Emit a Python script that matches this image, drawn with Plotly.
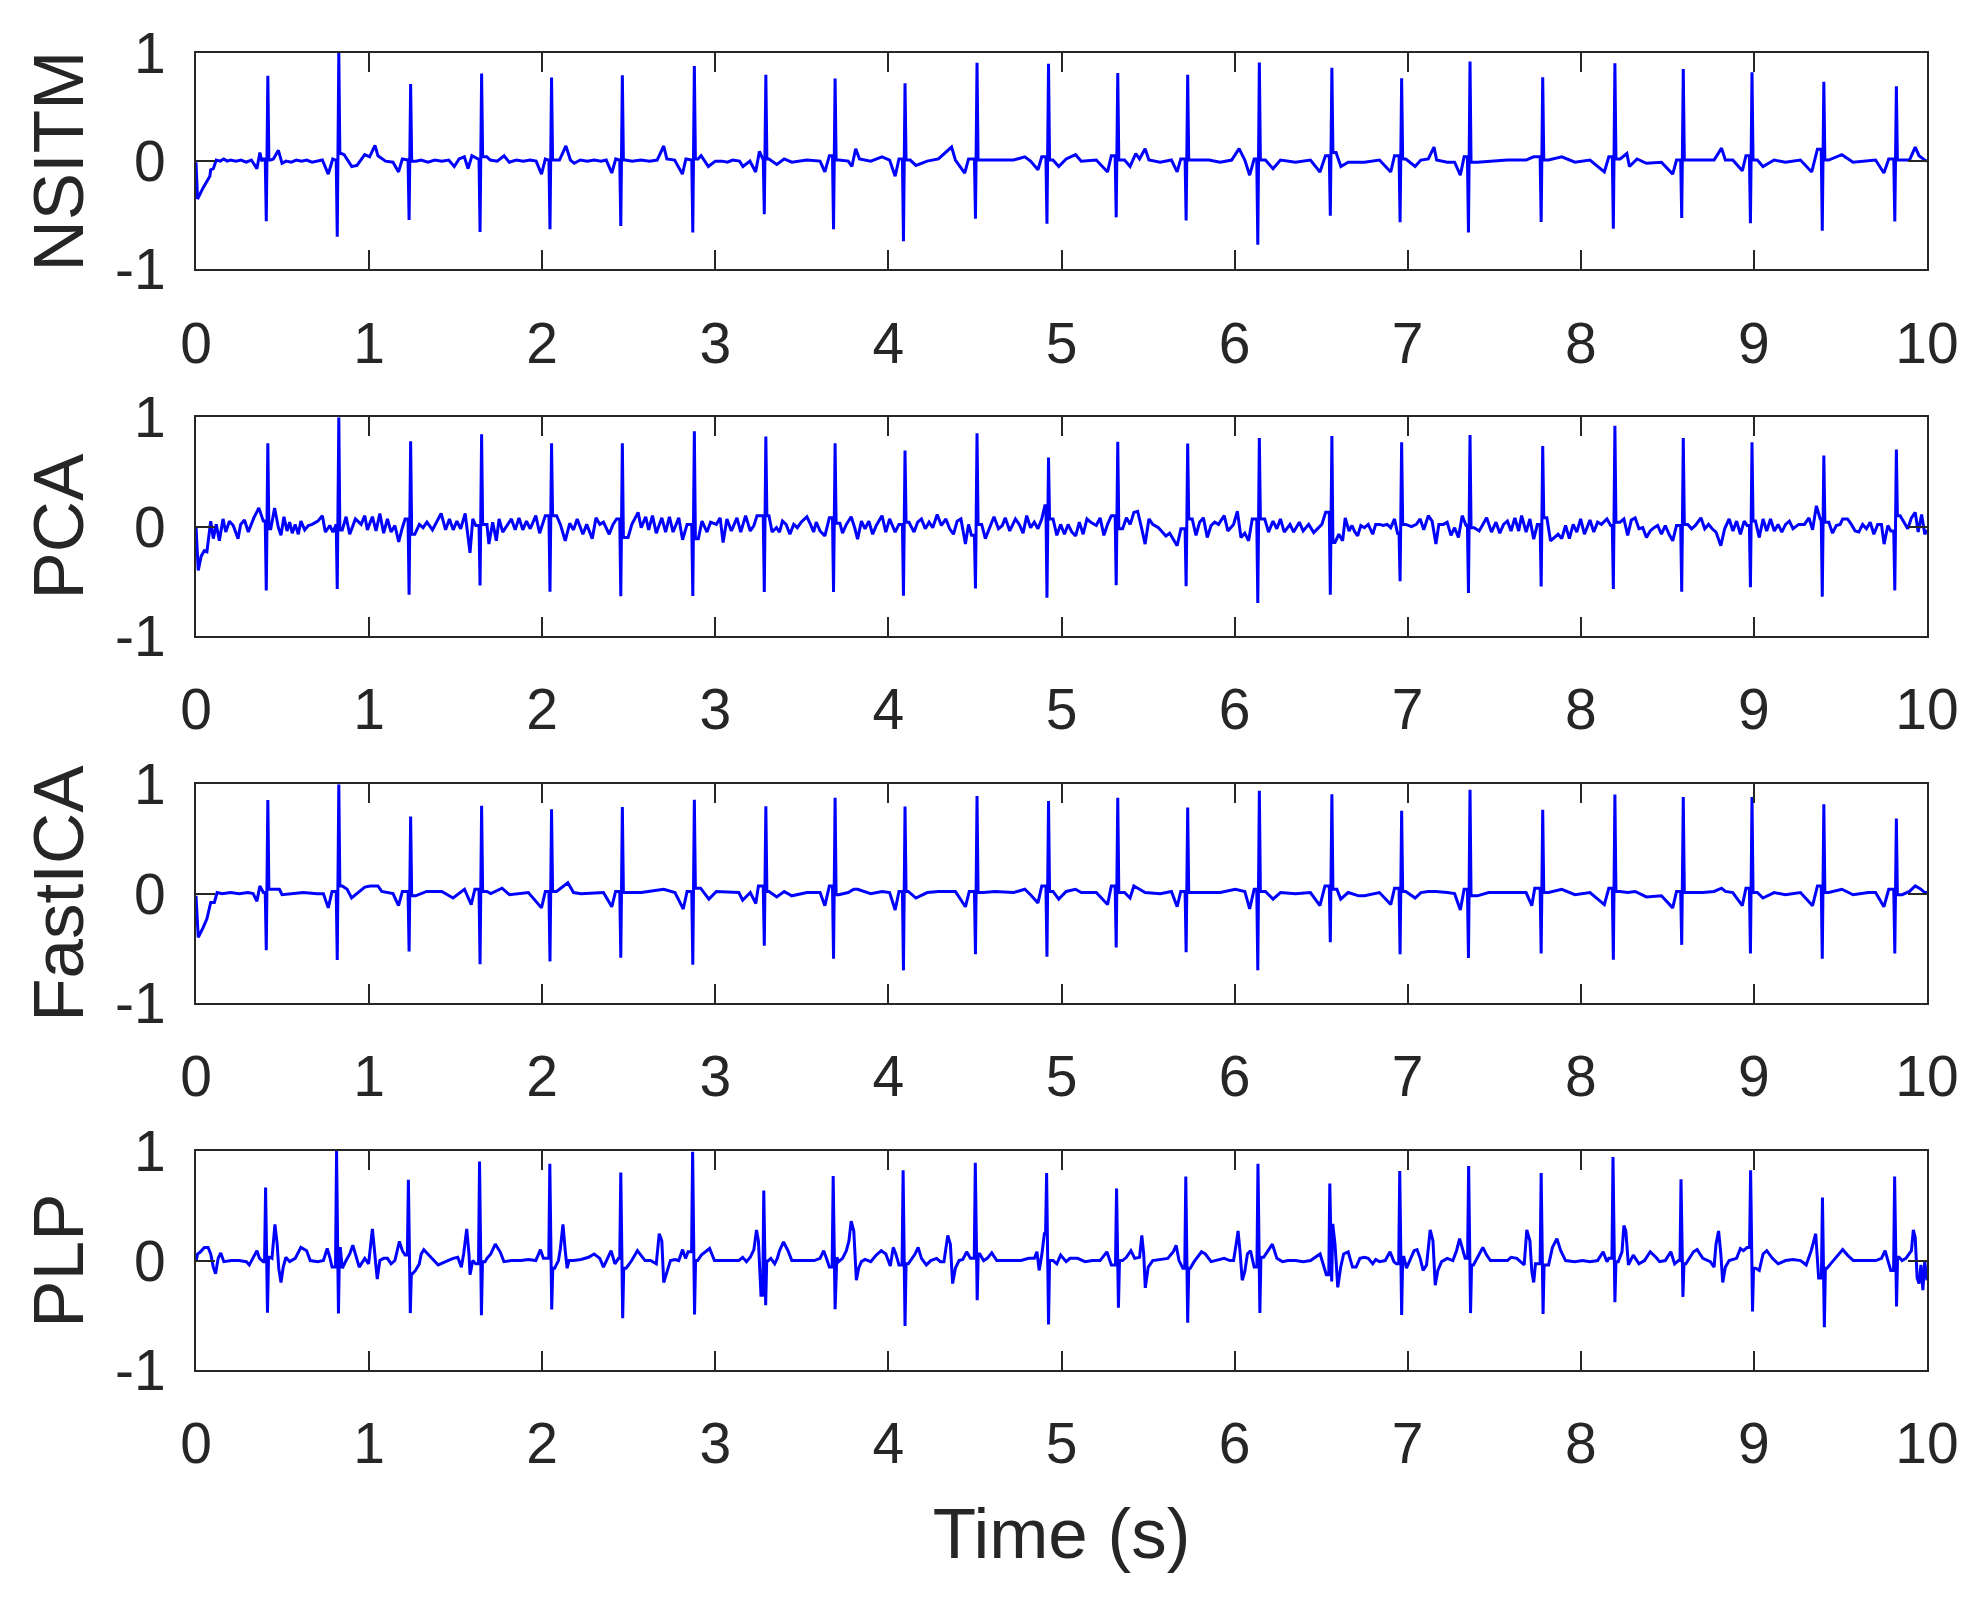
import bisect
import plotly.graph_objects as go

# R-peak times (s) shared by NSITM, PCA and FastICA
beat_t = [0.415, 0.825, 1.240, 1.650, 2.054, 2.463, 2.879, 3.292, 3.692, 4.096, 4.512, 4.925,
          5.325, 5.729, 6.143, 6.562, 6.965, 7.360, 7.780, 8.197, 8.592, 8.989, 9.404, 9.823]
# R-peak times (s) of the PLP trace
plp_beat_t = [0.402, 0.812, 1.227, 1.638, 2.044, 2.454, 2.869, 3.280, 3.681, 4.085, 4.502, 4.914,
              5.318, 5.718, 6.135, 6.550, 6.954, 7.352, 7.771, 8.186, 8.579, 8.981, 9.396, 9.813]

nsitm_r = [0.79, 1.0, 0.713, 0.81, 0.773, 0.795, 0.879, 0.798, 0.764, 0.719, 0.909, 0.90,
           0.816, 0.798, 0.912, 0.864, 0.767, 0.921, 0.776, 0.906, 0.852, 0.822, 0.734, 0.692]
nsitm_s = [-0.556, -0.70, -0.544, -0.656, -0.631, -0.60, -0.66, -0.49, -0.631, -0.74, -0.532, -0.58,
           -0.52, -0.55, -0.773, -0.505, -0.565, -0.66, -0.562, -0.625, -0.526, -0.574, -0.644, -0.559]

pca_r = [0.761, 1.0, 0.779, 0.843, 0.761, 0.761, 0.870, 0.822, 0.761, 0.695, 0.852, 0.631,
         0.776, 0.758, 0.81, 0.828, 0.770, 0.837, 0.737, 0.921, 0.81, 0.77, 0.65, 0.704]
pca_s = [-0.583, -0.571, -0.622, -0.538, -0.595, -0.637, -0.634, -0.598, -0.598, -0.631, -0.565, -0.65,
         -0.535, -0.544, -0.698, -0.622, -0.50, -0.607, -0.547, -0.571, -0.595, -0.553, -0.64, -0.583]

ica_r = [0.855, 1.0, 0.704, 0.804, 0.770, 0.792, 0.858, 0.798, 0.876, 0.795, 0.891, 0.846,
         0.876, 0.786, 0.94, 0.909, 0.758, 0.949, 0.767, 0.906, 0.882, 0.882, 0.816, 0.686]
ica_s = [-0.517, -0.607, -0.529, -0.644, -0.619, -0.586, -0.65, -0.477, -0.595, -0.701, -0.553, -0.577,
         -0.492, -0.535, -0.701, -0.444, -0.553, -0.589, -0.547, -0.604, -0.468, -0.547, -0.595, -0.547]

plp_r = [0.668, 1.0, 0.737, 0.906, 0.885, 0.804, 0.994, 0.64, 0.773, 0.825, 0.894, 0.80,
         0.659, 0.767, 0.885, 0.704, 0.819, 0.864, 0.80, 0.946, 0.743, 0.825, 0.577, 0.767]
plp_s = [-0.477, -0.483, -0.480, -0.50, -0.447, -0.526, -0.492, -0.408, -0.444, -0.598, -0.363, -0.583,
         -0.432, -0.568, -0.48, -0.19, -0.498, -0.48, -0.489, -0.381, -0.332, -0.465, -0.61, -0.42]

# baseline between the QRS spikes, (time, value)
nsitm_base = [
    (0.000, -0.01), (0.009, -0.35), (0.040, -0.25), (0.063, -0.19), (0.080, -0.14), (0.085, -0.08), (0.100, -0.07),
    (0.117, 0.01), (0.140, 0.00), (0.160, 0.02), (0.180, 0.00), (0.200, 0.01), (0.230, 0.00), (0.260, 0.01),
    (0.290, -0.01), (0.320, 0.01), (0.352, -0.07), (0.369, 0.08), (0.380, 0.00), (0.389, 0.02),
    (0.430, 0.01), (0.447, 0.02), (0.476, 0.10), (0.497, -0.02), (0.520, 0.00), (0.550, -0.01), (0.580, 0.01),
    (0.610, 0.00), (0.640, 0.01), (0.670, -0.01), (0.700, 0.00), (0.730, 0.01), (0.764, -0.12), (0.790, 0.02),
    (0.805, 0.01), (0.840, 0.07), (0.856, 0.06), (0.900, -0.05), (0.930, -0.04), (0.975, 0.06), (1.003, 0.04),
    (1.034, 0.145), (1.051, 0.05), (1.095, 0.00), (1.138, -0.01), (1.170, -0.10), (1.192, 0.02), (1.220, 0.01),
    (1.270, 0.00), (1.300, 0.01), (1.340, -0.01), (1.380, 0.01), (1.420, 0.00), (1.460, 0.01), (1.492, -0.05),
    (1.520, 0.02), (1.550, 0.04), (1.572, -0.07), (1.594, 0.05), (1.630, 0.02),
    (1.680, 0.04), (1.700, 0.01), (1.740, 0.00), (1.780, 0.05), (1.810, -0.01), (1.850, 0.01), (1.890, 0.00),
    (1.930, 0.01), (1.965, 0.00), (1.996, -0.12), (2.018, 0.02), (2.035, 0.01),
    (2.070, 0.01), (2.100, 0.01), (2.137, 0.14), (2.163, 0.01), (2.185, -0.02), (2.220, 0.01), (2.260, 0.00),
    (2.300, 0.01), (2.340, 0.00), (2.370, 0.01), (2.402, -0.11), (2.425, 0.02), (2.445, 0.01),
    (2.480, 0.01), (2.520, 0.00), (2.570, 0.01), (2.620, 0.00), (2.664, 0.01), (2.702, 0.14), (2.720, 0.02),
    (2.765, 0.01), (2.810, -0.12), (2.830, 0.02), (2.860, 0.01),
    (2.900, 0.02), (2.918, 0.05), (2.960, -0.05), (3.000, 0.00), (3.040, 0.00), (3.070, -0.01), (3.100, 0.01),
    (3.140, 0.00), (3.160, -0.05), (3.200, 0.00), (3.233, -0.10), (3.255, 0.09), (3.272, 0.03),
    (3.310, 0.02), (3.355, -0.03), (3.398, 0.02), (3.442, -0.01), (3.529, 0.01), (3.605, 0.00), (3.633, -0.10),
    (3.659, 0.05), (3.713, 0.01), (3.768, 0.00), (3.789, -0.05), (3.811, 0.115), (3.833, 0.02), (3.898, 0.00),
    (3.963, 0.04), (4.007, 0.01), (4.039, -0.14), (4.061, 0.02),
    (4.126, 0.01), (4.159, -0.04), (4.224, 0.00), (4.289, 0.02), (4.365, 0.13), (4.387, 0.01), (4.441, -0.11),
    (4.463, 0.02), (4.549, 0.01), (4.615, 0.01), (4.723, 0.01), (4.788, 0.04), (4.821, 0.00), (4.864, -0.08),
    (4.886, 0.04), (4.951, 0.01), (4.984, -0.05), (5.027, 0.02), (5.081, 0.06), (5.114, 0.00), (5.201, 0.01),
    (5.266, -0.10), (5.288, 0.05), (5.364, 0.01), (5.396, -0.05), (5.429, 0.07), (5.451, 0.02), (5.483, 0.115),
    (5.505, 0.01), (5.570, -0.01), (5.635, 0.01), (5.668, -0.10), (5.689, 0.02),
    (5.765, 0.01), (5.852, 0.01), (5.917, -0.01), (5.983, 0.01), (6.026, 0.115), (6.059, 0.01), (6.087, -0.13),
    (6.113, 0.02), (6.178, 0.01), (6.222, -0.07), (6.265, 0.01), (6.352, -0.01), (6.438, 0.01), (6.493, -0.10),
    (6.525, 0.05), (6.586, 0.08), (6.614, -0.05), (6.656, -0.01), (6.750, -0.01), (6.837, 0.01), (6.902, -0.10),
    (6.924, 0.05), (6.989, 0.02), (7.043, -0.05), (7.076, 0.01), (7.119, 0.02), (7.152, 0.13), (7.167, 0.01),
    (7.228, -0.01), (7.271, -0.01), (7.304, -0.13), (7.326, 0.04),
    (7.402, -0.01), (7.467, 0.00), (7.575, 0.01), (7.684, 0.01), (7.727, 0.04),
    (7.814, 0.01), (7.890, 0.04), (7.966, -0.01), (8.053, 0.01), (8.136, -0.10), (8.162, 0.04),
    (8.227, 0.02), (8.266, 0.07), (8.281, -0.05), (8.325, 0.02), (8.379, -0.02), (8.466, -0.01), (8.531, -0.12),
    (8.553, 0.01), (8.640, 0.01), (8.705, 0.01), (8.770, 0.01), (8.813, 0.12), (8.835, 0.01), (8.878, 0.01),
    (8.933, -0.09), (8.954, 0.05), (9.020, 0.01), (9.052, -0.05), (9.117, 0.01), (9.182, -0.01), (9.269, 0.01),
    (9.334, -0.10), (9.367, 0.11), (9.432, 0.01), (9.508, 0.06), (9.573, -0.01), (9.660, 0.00), (9.703, 0.01),
    (9.751, -0.11), (9.779, 0.02), (9.856, 0.01), (9.899, 0.01), (9.932, 0.13), (9.954, 0.05), (9.986, 0.01),
    (10.000, 0.00),
]

pca_base = [
    (0.000, 0.00), (0.013, -0.40), (0.030, -0.27), (0.048, -0.22), (0.063, -0.23), (0.085, 0.05), (0.100, -0.11),
    (0.117, 0.02), (0.135, -0.13), (0.156, 0.07), (0.172, -0.05), (0.193, 0.05), (0.215, 0.01), (0.243, -0.11),
    (0.258, 0.02), (0.280, 0.06), (0.302, -0.05), (0.334, 0.08), (0.363, 0.17), (0.389, 0.05),
    (0.432, -0.02), (0.454, 0.17), (0.476, -0.01), (0.491, -0.08), (0.508, 0.09), (0.526, -0.04), (0.541, 0.04),
    (0.556, -0.06), (0.573, 0.02), (0.591, -0.07), (0.606, 0.05), (0.628, -0.03), (0.649, 0.01), (0.671, 0.02),
    (0.704, 0.05), (0.730, 0.10), (0.747, -0.05), (0.773, 0.01), (0.791, -0.05), (0.808, 0.02),
    (0.845, -0.03), (0.867, 0.09), (0.888, -0.07), (0.921, 0.07), (0.954, 0.02), (0.975, 0.10), (0.990, -0.03),
    (1.019, 0.09), (1.040, -0.04), (1.062, 0.12), (1.084, -0.06), (1.106, 0.07), (1.127, -0.05), (1.149, 0.01),
    (1.171, -0.14), (1.192, -0.01), (1.208, 0.07),
    (1.264, -0.07), (1.290, 0.02), (1.312, -0.01), (1.334, 0.04), (1.366, -0.03), (1.388, 0.04), (1.416, 0.12),
    (1.442, -0.03), (1.464, 0.07), (1.486, -0.03), (1.507, 0.05), (1.529, -0.02), (1.555, 0.12), (1.583, -0.24),
    (1.599, 0.07), (1.616, 0.01),
    (1.681, 0.02), (1.692, -0.16), (1.714, 0.04), (1.735, -0.13), (1.751, 0.07), (1.772, -0.05), (1.801, 0.02),
    (1.822, 0.07), (1.844, -0.03), (1.866, 0.08), (1.888, -0.03), (1.909, 0.05), (1.931, -0.02), (1.963, 0.10),
    (1.985, -0.06), (2.018, 0.10),
    (2.083, 0.10), (2.105, 0.02), (2.133, -0.13), (2.159, 0.03), (2.181, -0.03), (2.202, 0.07), (2.235, -0.07),
    (2.257, 0.02), (2.289, -0.11), (2.311, 0.08), (2.333, 0.02), (2.354, 0.04), (2.387, -0.07), (2.409, 0.02),
    (2.430, 0.07),
    (2.496, -0.10), (2.518, 0.02), (2.554, 0.13), (2.572, -0.01), (2.598, 0.09), (2.615, -0.03), (2.637, 0.10),
    (2.659, -0.06), (2.691, 0.08), (2.713, -0.05), (2.735, 0.09), (2.756, -0.05), (2.789, 0.08), (2.811, -0.12),
    (2.837, 0.02),
    (2.902, -0.11), (2.923, 0.05), (2.952, -0.05), (2.973, 0.04), (3.006, 0.02), (3.028, 0.08), (3.045, -0.145),
    (3.067, 0.07), (3.093, -0.04), (3.125, 0.08), (3.147, -0.05), (3.175, 0.10), (3.202, -0.04), (3.223, 0.01),
    (3.241, 0.10),
    (3.310, 0.10), (3.328, -0.05), (3.353, -0.01), (3.371, -0.05), (3.388, 0.05), (3.409, 0.02), (3.431, -0.07),
    (3.453, 0.02), (3.474, -0.01), (3.496, 0.04), (3.529, 0.09), (3.550, 0.02), (3.568, -0.05), (3.583, 0.04),
    (3.605, -0.04), (3.633, -0.085), (3.659, 0.08),
    (3.720, 0.03), (3.735, -0.06), (3.757, 0.02), (3.785, 0.09), (3.807, -0.02), (3.822, -0.115), (3.844, 0.05),
    (3.865, -0.02), (3.887, 0.05), (3.909, -0.07), (3.930, 0.01), (3.963, 0.10), (3.985, -0.05), (4.007, 0.07),
    (4.039, -0.05), (4.061, 0.02),
    (4.119, 0.04), (4.148, -0.05), (4.169, 0.04), (4.191, 0.07), (4.213, -0.02), (4.235, 0.04), (4.256, -0.01),
    (4.282, 0.11), (4.306, 0.01), (4.332, 0.07), (4.354, -0.02), (4.376, -0.07), (4.397, 0.05), (4.419, 0.07),
    (4.445, -0.16), (4.463, 0.02), (4.480, -0.08),
    (4.539, 0.02), (4.560, -0.11), (4.582, -0.02), (4.610, 0.09), (4.636, -0.02), (4.658, 0.01), (4.675, 0.08),
    (4.701, -0.04), (4.734, 0.07), (4.756, 0.02), (4.778, -0.06), (4.799, 0.10), (4.821, -0.01), (4.843, 0.04),
    (4.864, -0.02), (4.886, 0.07), (4.904, 0.19),
    (4.951, 0.07), (4.973, -0.08), (4.995, 0.02), (5.017, -0.07), (5.038, 0.02), (5.060, -0.05), (5.082, -0.085),
    (5.103, 0.04), (5.125, -0.07), (5.147, 0.07), (5.169, 0.04), (5.201, 0.01), (5.223, 0.08), (5.245, -0.08),
    (5.266, 0.02), (5.288, 0.10),
    (5.353, -0.02), (5.375, 0.08), (5.397, 0.02), (5.418, 0.13), (5.440, 0.14), (5.462, -0.01), (5.483, -0.16),
    (5.505, 0.07), (5.527, 0.02), (5.560, -0.01), (5.581, -0.05), (5.603, -0.085), (5.625, -0.06), (5.646, -0.12),
    (5.668, -0.175), (5.690, -0.02),
    (5.755, 0.07), (5.777, -0.08), (5.798, 0.04), (5.820, 0.08), (5.842, -0.10), (5.864, 0.01), (5.885, 0.04),
    (5.907, 0.02), (5.940, 0.10), (5.961, -0.04), (5.994, 0.02), (6.016, 0.14), (6.037, -0.10), (6.059, -0.06),
    (6.081, -0.13), (6.102, 0.07),
    (6.174, 0.07), (6.196, -0.05), (6.222, 0.05), (6.244, -0.02), (6.265, 0.07), (6.287, -0.05), (6.320, 0.02),
    (6.341, -0.05), (6.374, 0.04), (6.396, -0.04), (6.428, 0.02), (6.457, -0.055), (6.483, -0.01), (6.504, 0.02),
    (6.526, 0.13),
    (6.580, -0.145), (6.602, -0.07), (6.624, -0.13), (6.639, 0.08), (6.661, -0.04), (6.678, 0.01), (6.695, -0.05),
    (6.711, -0.085), (6.729, 0.01), (6.750, -0.01), (6.772, 0.02), (6.798, -0.07), (6.815, 0.02), (6.837, 0.02),
    (6.859, 0.01), (6.881, 0.02), (6.902, -0.01), (6.924, 0.07), (6.941, -0.06),
    (6.989, 0.02), (7.022, 0.00), (7.050, 0.02), (7.072, 0.07), (7.093, -0.03), (7.119, 0.10), (7.141, 0.05),
    (7.163, -0.16), (7.180, 0.02), (7.206, 0.02), (7.228, 0.04), (7.250, -0.08), (7.271, -0.01), (7.293, -0.10),
    (7.315, 0.10), (7.337, 0.01),
    (7.384, -0.01), (7.413, -0.04), (7.434, 0.02), (7.456, 0.08), (7.484, -0.05), (7.510, 0.04), (7.532, -0.06),
    (7.554, 0.02), (7.576, 0.05), (7.597, -0.04), (7.619, 0.08), (7.641, -0.04), (7.658, 0.10), (7.684, -0.05),
    (7.706, 0.07), (7.728, -0.115), (7.749, 0.02),
    (7.804, 0.08), (7.825, -0.13), (7.847, -0.10), (7.869, -0.07), (7.890, -0.11), (7.912, 0.01), (7.934, -0.11),
    (7.956, 0.02), (7.977, -0.05), (7.999, 0.07), (8.021, -0.07), (8.053, 0.06), (8.075, -0.05), (8.097, 0.04),
    (8.119, 0.02), (8.151, 0.07), (8.173, 0.01),
    (8.227, 0.04), (8.249, 0.07), (8.271, -0.08), (8.292, 0.06), (8.314, 0.08), (8.336, -0.02), (8.358, -0.01),
    (8.379, -0.10), (8.401, -0.04), (8.423, -0.01), (8.444, 0.01), (8.466, -0.07), (8.488, 0.01), (8.510, -0.07),
    (8.531, -0.13), (8.553, 0.01),
    (8.618, 0.02), (8.640, -0.02), (8.662, 0.01), (8.694, 0.08), (8.716, -0.02), (8.738, 0.02), (8.759, -0.02),
    (8.781, -0.05), (8.809, -0.175), (8.831, -0.02), (8.857, 0.07), (8.879, -0.04), (8.900, 0.05), (8.922, -0.07),
    (8.944, 0.05), (8.961, 0.01),
    (9.009, 0.05), (9.031, -0.10), (9.053, 0.07), (9.074, -0.04), (9.096, 0.07), (9.118, -0.04), (9.140, 0.02),
    (9.161, -0.05), (9.183, 0.02), (9.205, 0.05), (9.226, -0.02), (9.259, 0.02), (9.292, 0.02), (9.318, 0.08),
    (9.339, -0.03), (9.361, 0.19), (9.383, 0.07),
    (9.433, 0.04), (9.454, -0.06), (9.476, 0.01), (9.498, 0.02), (9.513, 0.07), (9.541, 0.07), (9.563, 0.02),
    (9.585, -0.04), (9.606, -0.05), (9.628, 0.02), (9.650, -0.02), (9.672, 0.04), (9.693, -0.07), (9.715, 0.02),
    (9.737, 0.02), (9.752, -0.16), (9.774, 0.01), (9.791, -0.04),
    (9.845, 0.10), (9.867, 0.04), (9.889, -0.02), (9.910, 0.08), (9.932, 0.13), (9.949, -0.05), (9.969, 0.11),
    (9.987, -0.07), (10.000, -0.03),
]

ica_base = [
    (0.000, -0.02), (0.013, -0.40), (0.041, -0.31), (0.063, -0.23), (0.085, -0.08), (0.106, -0.08), (0.122, 0.01),
    (0.150, 0.00), (0.200, 0.01), (0.250, 0.00), (0.300, 0.01), (0.330, 0.00), (0.352, -0.07), (0.369, 0.07),
    (0.389, 0.01),
    (0.447, 0.04), (0.482, 0.04), (0.497, -0.01), (0.550, 0.00), (0.620, 0.01), (0.700, 0.00), (0.736, 0.00),
    (0.764, -0.13), (0.786, 0.02),
    (0.845, 0.07), (0.873, 0.04), (0.899, -0.04), (0.942, 0.02), (0.975, 0.06), (1.008, 0.07), (1.051, 0.07),
    (1.073, 0.02), (1.138, 0.00), (1.170, -0.11), (1.192, 0.02),
    (1.268, -0.02), (1.333, 0.02), (1.420, 0.02), (1.485, -0.04), (1.551, 0.04), (1.590, -0.10), (1.611, 0.04),
    (1.681, 0.02), (1.703, 0.00), (1.768, 0.05), (1.811, -0.01), (1.920, 0.01), (1.996, -0.13), (2.018, 0.02),
    (2.083, 0.02), (2.148, 0.10), (2.181, 0.01), (2.224, 0.00), (2.354, 0.01), (2.402, -0.12), (2.424, 0.02),
    (2.485, 0.01), (2.572, 0.01), (2.702, 0.04), (2.767, 0.01), (2.815, -0.14), (2.837, 0.02),
    (2.915, 0.05), (2.963, -0.05), (3.006, 0.02), (3.136, 0.01), (3.158, -0.06), (3.202, 0.01), (3.234, -0.09),
    (3.249, 0.07),
    (3.310, 0.02), (3.355, -0.03), (3.398, 0.02), (3.442, -0.02), (3.529, 0.01), (3.605, 0.01), (3.633, -0.11),
    (3.659, 0.07),
    (3.713, -0.01), (3.768, 0.01), (3.800, 0.04), (3.822, 0.04), (3.898, 0.00), (3.963, 0.02), (4.007, 0.01),
    (4.039, -0.15), (4.061, 0.02),
    (4.115, 0.02), (4.159, -0.04), (4.224, 0.01), (4.289, 0.02), (4.365, 0.02), (4.387, 0.02), (4.445, -0.12),
    (4.467, 0.02),
    (4.549, 0.01), (4.615, 0.02), (4.723, 0.01), (4.788, 0.04), (4.821, -0.01), (4.864, -0.085), (4.886, 0.07),
    (4.951, 0.02), (4.984, -0.05), (5.027, 0.02), (5.081, 0.04), (5.114, 0.01), (5.201, 0.01), (5.266, -0.10),
    (5.288, 0.07),
    (5.364, 0.01), (5.396, -0.04), (5.418, 0.07), (5.451, 0.04), (5.483, 0.01), (5.570, 0.00), (5.635, 0.02),
    (5.668, -0.12), (5.689, 0.02),
    (5.765, 0.01), (5.852, 0.01), (5.917, 0.01), (6.004, 0.04), (6.059, 0.02), (6.087, -0.14), (6.113, 0.04),
    (6.178, 0.02), (6.222, -0.05), (6.265, 0.01), (6.352, 0.00), (6.438, 0.01), (6.493, -0.11), (6.522, 0.07),
    (6.591, 0.04), (6.613, -0.05), (6.656, 0.01), (6.717, -0.02), (6.750, -0.02), (6.837, 0.01), (6.902, -0.10),
    (6.924, 0.05),
    (6.989, 0.02), (7.043, -0.04), (7.076, 0.01), (7.119, 0.02), (7.163, 0.02), (7.228, 0.01), (7.271, 0.00),
    (7.304, -0.15), (7.326, 0.04),
    (7.402, -0.02), (7.467, 0.01), (7.575, 0.01), (7.684, 0.01), (7.717, -0.11), (7.734, 0.05),
    (7.814, 0.01), (7.890, 0.04), (7.966, -0.01), (8.053, 0.01), (8.136, -0.10), (8.162, 0.05),
    (8.227, 0.02), (8.271, 0.01), (8.314, 0.02), (8.379, -0.03), (8.466, -0.02), (8.531, -0.13), (8.553, 0.02),
    (8.640, 0.01), (8.705, 0.01), (8.770, 0.02), (8.813, 0.05), (8.835, 0.02), (8.878, 0.01), (8.933, -0.11),
    (8.954, 0.05),
    (9.020, 0.01), (9.052, -0.04), (9.117, 0.01), (9.182, -0.01), (9.269, 0.01), (9.339, -0.11), (9.367, 0.07),
    (9.432, 0.01), (9.508, 0.04), (9.573, -0.01), (9.660, 0.01), (9.703, 0.01), (9.751, -0.12), (9.779, 0.04),
    (9.856, -0.01), (9.899, 0.02), (9.932, 0.07), (9.965, 0.04), (9.986, 0.01), (10.000, 0.01),
]

plp_base = [
    (0.000, -0.01), (0.009, 0.06), (0.026, 0.08), (0.048, 0.12), (0.070, 0.12), (0.085, 0.06), (0.100, -0.06),
    (0.113, -0.12), (0.128, 0.02), (0.143, 0.07), (0.161, -0.01), (0.204, 0.00), (0.248, 0.00), (0.291, -0.01),
    (0.308, -0.04), (0.330, 0.03), (0.352, 0.09), (0.367, 0.02), (0.389, -0.01),
    (0.426, 0.03), (0.439, 0.02), (0.456, 0.33), (0.469, 0.15), (0.478, -0.07), (0.491, -0.20), (0.504, -0.06),
    (0.519, 0.03), (0.541, -0.01), (0.573, 0.02), (0.606, 0.12), (0.639, 0.09), (0.660, 0.00), (0.704, -0.01),
    (0.736, 0.00), (0.758, 0.11), (0.773, 0.03), (0.786, -0.06),
    (0.834, 0.11), (0.845, -0.07), (0.867, 0.00), (0.888, 0.06), (0.906, 0.14), (0.921, 0.06), (0.943, -0.06),
    (0.975, 0.02), (0.997, -0.03), (1.019, 0.29), (1.034, 0.06), (1.047, -0.17), (1.062, 0.00), (1.084, 0.02),
    (1.106, 0.02), (1.127, -0.03), (1.149, 0.00), (1.160, 0.08), (1.175, 0.175), (1.192, 0.09), (1.208, 0.05),
    (1.251, -0.12), (1.268, -0.09), (1.290, -0.03), (1.301, 0.06), (1.316, 0.10), (1.344, 0.05), (1.377, -0.01),
    (1.399, -0.04), (1.442, -0.01), (1.486, 0.02), (1.512, 0.03), (1.533, -0.06), (1.546, 0.06), (1.564, 0.29),
    (1.577, 0.06), (1.583, -0.13), (1.599, 0.00), (1.616, -0.03),
    (1.670, -0.01), (1.681, 0.02), (1.703, 0.06), (1.729, 0.15), (1.757, 0.08), (1.779, -0.01), (1.822, 0.00),
    (1.877, 0.00), (1.920, 0.01), (1.963, 0.00), (1.990, 0.10), (2.007, 0.02),
    (2.072, -0.07), (2.094, 0.00), (2.105, 0.11), (2.120, 0.33), (2.133, 0.09), (2.144, -0.07), (2.155, 0.00),
    (2.181, 0.00), (2.224, 0.01), (2.268, 0.03), (2.300, 0.06), (2.333, 0.02), (2.354, -0.06), (2.376, 0.02),
    (2.398, 0.09), (2.420, -0.03), (2.441, 0.02),
    (2.485, -0.07), (2.517, 0.00), (2.550, 0.09), (2.572, 0.05), (2.594, 0.00), (2.626, 0.00), (2.659, -0.03),
    (2.676, 0.245), (2.691, 0.18), (2.702, -0.20), (2.719, -0.12), (2.741, 0.00), (2.767, 0.01), (2.789, 0.00),
    (2.811, 0.10), (2.828, 0.02), (2.843, 0.08),
    (2.898, 0.00), (2.919, 0.05), (2.941, 0.08), (2.967, 0.11), (2.995, 0.00), (3.049, 0.00), (3.093, 0.00),
    (3.136, 0.00), (3.158, 0.03), (3.180, -0.01), (3.202, 0.03), (3.223, 0.10), (3.238, 0.28), (3.249, 0.18),
    (3.264, -0.317),
    (3.299, -0.01), (3.321, 0.02), (3.343, -0.03), (3.358, 0.02), (3.371, 0.09), (3.394, 0.17), (3.420, 0.09),
    (3.442, 0.00), (3.485, 0.00), (3.529, 0.00), (3.572, 0.00), (3.605, 0.02), (3.626, 0.09), (3.642, 0.02),
    (3.659, -0.06),
    (3.702, 0.03), (3.713, -0.01), (3.735, 0.02), (3.757, 0.09), (3.772, 0.18), (3.785, 0.36), (3.800, 0.27),
    (3.815, -0.18), (3.828, -0.07), (3.844, -0.01), (3.865, 0.01), (3.898, -0.01), (3.930, 0.05), (3.959, 0.09),
    (3.985, 0.06), (4.011, -0.05), (4.028, 0.12), (4.043, 0.06), (4.061, -0.04),
    (4.115, -0.03), (4.137, 0.02), (4.154, 0.06), (4.172, 0.12), (4.191, 0.02), (4.219, -0.04), (4.245, 0.00),
    (4.278, 0.02), (4.300, -0.01), (4.321, -0.01), (4.343, 0.23), (4.358, 0.15), (4.371, -0.21), (4.387, -0.07),
    (4.408, 0.00), (4.430, 0.01), (4.452, 0.08), (4.474, 0.02),
    (4.528, 0.06), (4.550, 0.00), (4.571, 0.02), (4.597, 0.07), (4.626, 0.00), (4.669, 0.00), (4.723, 0.00),
    (4.767, 0.00), (4.810, 0.02), (4.843, 0.02), (4.858, 0.08), (4.871, -0.09), (4.886, 0.05), (4.901, 0.245),
    (4.951, 0.00), (4.973, -0.03), (4.995, 0.05), (5.027, -0.01), (5.049, 0.02), (5.093, 0.02), (5.136, -0.01),
    (5.179, 0.00), (5.223, 0.00), (5.262, 0.08), (5.288, -0.04),
    (5.353, 0.00), (5.375, 0.03), (5.401, 0.09), (5.423, 0.02), (5.451, 0.03), (5.464, 0.23), (5.475, 0.06),
    (5.484, -0.25), (5.501, -0.06), (5.527, 0.00), (5.570, 0.01), (5.614, 0.02), (5.646, 0.08), (5.662, 0.14),
    (5.679, 0.00), (5.701, -0.07),
    (5.744, -0.07), (5.766, -0.01), (5.809, 0.08), (5.831, 0.06), (5.864, -0.01), (5.896, 0.00), (5.940, 0.02),
    (5.972, 0.00), (5.994, 0.00), (6.009, 0.15), (6.020, 0.27), (6.031, 0.09), (6.044, -0.18), (6.059, -0.10),
    (6.074, 0.06), (6.092, 0.09), (6.113, -0.06),
    (6.168, 0.03), (6.189, 0.08), (6.218, 0.15), (6.244, 0.02), (6.276, -0.01), (6.309, 0.00), (6.352, 0.00),
    (6.396, -0.01), (6.439, 0.00), (6.494, 0.06), (6.515, -0.06), (6.530, -0.13),
    (6.566, 0.335), (6.580, 0.15), (6.596, -0.245), (6.613, -0.06), (6.630, 0.06), (6.656, 0.08), (6.681, -0.06),
    (6.702, -0.06), (6.724, 0.02), (6.750, 0.03), (6.772, 0.02), (6.798, -0.03), (6.815, 0.01), (6.837, -0.01),
    (6.870, 0.00), (6.898, 0.08), (6.920, -0.01), (6.935, -0.03),
    (6.978, 0.03), (6.993, -0.07), (7.011, 0.00), (7.037, 0.09), (7.054, 0.10), (7.072, 0.02), (7.089, -0.09),
    (7.109, -0.04), (7.130, 0.28), (7.146, 0.18), (7.159, -0.225), (7.174, -0.09), (7.196, -0.01), (7.228, 0.02),
    (7.261, 0.00), (7.282, 0.09), (7.300, 0.20), (7.315, 0.12), (7.332, 0.02),
    (7.380, -0.04), (7.413, 0.06), (7.434, 0.12), (7.456, 0.05), (7.478, 0.00), (7.532, 0.00), (7.576, 0.00),
    (7.597, 0.03), (7.630, 0.02), (7.673, -0.04), (7.688, 0.28), (7.706, 0.18), (7.717, -0.10), (7.728, -0.20),
    (7.738, -0.03),
    (7.797, -0.04), (7.814, -0.04), (7.836, 0.12), (7.862, 0.20), (7.884, 0.09), (7.912, 0.00), (7.966, -0.01),
    (8.010, 0.00), (8.053, -0.01), (8.097, 0.00), (8.129, 0.08), (8.151, -0.01), (8.162, 0.02),
    (8.216, -0.01), (8.238, 0.08), (8.249, 0.32), (8.260, 0.27), (8.275, -0.04), (8.303, 0.05), (8.336, -0.03),
    (8.368, 0.00), (8.401, 0.08), (8.434, 0.03), (8.455, -0.01), (8.488, 0.00), (8.520, 0.08), (8.542, -0.03),
    (8.564, 0.00),
    (8.607, -0.03), (8.629, 0.02), (8.651, 0.08), (8.672, 0.10), (8.705, 0.02), (8.748, -0.01), (8.770, -0.06),
    (8.781, 0.15), (8.796, 0.27), (8.809, 0.06), (8.820, -0.20), (8.835, -0.06), (8.857, 0.00), (8.900, 0.02),
    (8.922, 0.11), (8.940, 0.09), (8.961, 0.12),
    (9.009, -0.07), (9.031, -0.09), (9.053, 0.06), (9.074, 0.09), (9.107, 0.02), (9.140, -0.03), (9.183, 0.00),
    (9.226, 0.01), (9.270, 0.00), (9.302, -0.04), (9.331, 0.09), (9.357, 0.245), (9.374, -0.16),
    (9.422, -0.07), (9.443, -0.03), (9.476, 0.03), (9.513, 0.10), (9.541, 0.05), (9.574, 0.00), (9.617, 0.00),
    (9.661, 0.00), (9.704, 0.00), (9.737, 0.02), (9.758, 0.09), (9.774, 0.00), (9.791, -0.09),
    (9.839, 0.03), (9.856, 0.00), (9.878, 0.02), (9.910, 0.09), (9.921, 0.28), (9.932, 0.21), (9.943, -0.16),
    (9.954, -0.21), (9.965, -0.04), (9.976, -0.27), (9.987, -0.01), (10.000, -0.18),
]

panel_names = ["NSITM", "PCA", "FastICA", "PLP"]
# gap between the R peak and the S trough of each panel (s)
s_offset = [-0.009, -0.009, -0.009, 0.011]


def build(base, beats, r_amp, s_amp, dt):
    base_t = [p[0] for p in base]
    pts = list(base)
    for t, r, s in zip(beats, r_amp, s_amp):
        ts = round(t + dt, 3)
        first, last = min(t, ts), max(t, ts)
        # the spike leaves and rejoins the baseline right at its foot
        i = bisect.bisect_left(base_t, first)
        j = bisect.bisect_right(base_t, last)
        if i > 0:
            pts.append((round(first - 0.006, 3), base[i - 1][1]))
        if j < len(base):
            pts.append((round(last + 0.006, 3), base[j][1]))
        pts.append((t, r))
        pts.append((ts, s))
    pts.sort()
    return [p[0] for p in pts], [p[1] for p in pts]


series = [
    build(nsitm_base, beat_t, nsitm_r, nsitm_s, s_offset[0]),
    build(pca_base, beat_t, pca_r, pca_s, s_offset[1]),
    build(ica_base, beat_t, ica_r, ica_s, s_offset[2]),
    build(plp_base, plp_beat_t, plp_r, plp_s, s_offset[3]),
]

domains = [[0.8358, 1.0], [0.5573, 0.7235], [0.2786, 0.4448], [0.0, 0.1662]]

FONT = "Liberation Sans, Arial, Helvetica, sans-serif"
INK = "#262626"

fig = go.Figure()
layout = {}
for i, (name, (xs, ys)) in enumerate(zip(panel_names, series), start=1):
    fig.add_trace(go.Scatter(
        x=xs, y=ys, mode="lines",
        line=dict(color="#0000ff", width=3.0),
        xaxis=f"x{i}", yaxis=f"y{i}",
        showlegend=False,
    ))
    layout[f"xaxis{i}"] = dict(
        domain=[0, 1], anchor=f"y{i}", range=[0, 10], automargin=False,
        tickvals=list(range(11)), ticks="inside", ticklen=19, tickwidth=2, tickcolor=INK,
        showline=True, linecolor=INK, linewidth=2, mirror="allticks",
        showgrid=False, zeroline=False,
        tickfont=dict(family=FONT, size=57, color=INK),
        ticklabelstandoff=23,
    )
    layout[f"yaxis{i}"] = dict(
        domain=domains[i - 1], anchor=f"x{i}", range=[-1, 1], automargin=False,
        tickvals=[-1, 0, 1], ticktext=["-1", "0", "1"],
        ticks="inside", ticklen=19, tickwidth=2, tickcolor=INK,
        showline=True, linecolor=INK, linewidth=2, mirror="allticks",
        showgrid=False, zeroline=False,
        tickfont=dict(family=FONT, size=57, color=INK),
        ticklabelstandoff=17,
        title=dict(text=name, font=dict(family=FONT, size=71, color=INK), standoff=8),
    )

layout["xaxis4"]["title"] = dict(text="Time (s)", font=dict(family=FONT, size=71, color=INK), standoff=34)

# the page adds an 8 px body margin, so the plot area is shifted back by that much
fig.update_layout(
    width=1984, height=1598,
    margin=dict(l=188, r=65, t=45, b=236),
    paper_bgcolor="white", plot_bgcolor="white",
    **layout,
)

fig.write_html("out.html")
